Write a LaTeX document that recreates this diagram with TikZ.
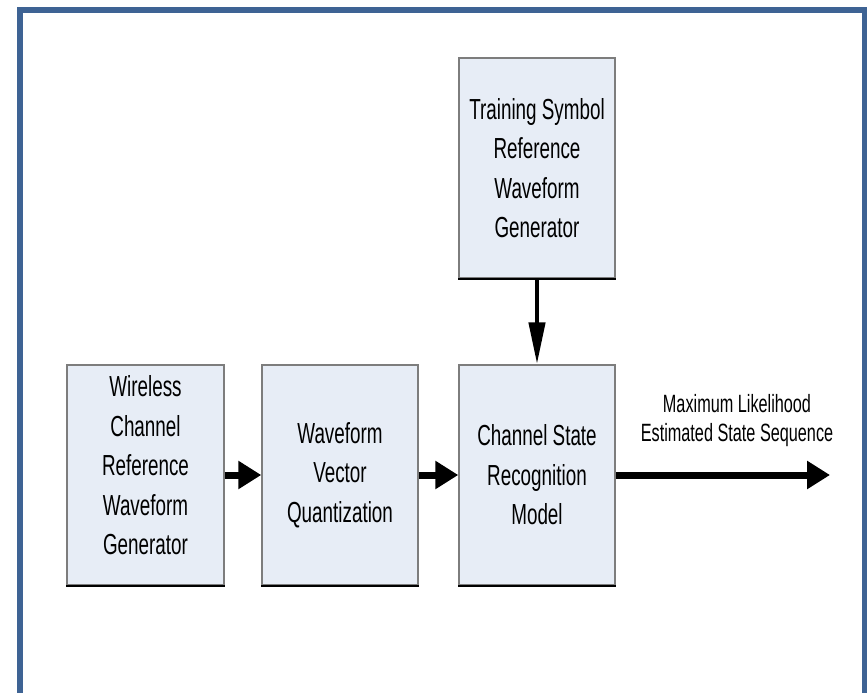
\documentclass[tikz,border=0pt]{standalone}
\usepackage{fontspec}
\setmainfont{Liberation Sans}[FakeStretch=0.65]
\usetikzlibrary{arrows.meta}
\definecolor{frameblue}{RGB}{62,99,148}
\definecolor{boxfill}{RGB}{231,237,246}
\definecolor{boxedge}{RGB}{125,125,125}

\begin{document}
\begin{tikzpicture}[x=1pt,y=-1pt,
  blockbox/.style={draw=boxedge, line width=1.5pt, fill=boxfill,
    minimum width=156pt, minimum height=220pt, inner sep=0pt,
    align=center, font=\fontsize{29}{39.5}\selectfont},
  flow/.style={line width=7pt, -{Triangle[length=23pt,width=27pt]}},
  feed/.style={line width=4.5pt, -{Triangle[length=42pt,width=16pt]}},
  lbl/.style={align=center, font=\fontsize{25}{29}\selectfont}]
\useasboundingbox (0,0) rectangle (867,693);
\clip (0,0) rectangle (867,693);

% outer frame
\draw[frameblue, line width=5.5pt] (20,10) rectangle (864.5,760);

% processing blocks
\node[blockbox, minimum width=157pt, text depth=20pt] (wcr) at (145.5,475)
  {Wireless\\Channel\\Reference\\Waveform\\Generator};
\node[blockbox] (wvq) at (340,475) {Waveform\\Vector\\Quantization};
\node[blockbox] (csr) at (537,475) {Channel State\\Recognition\\Model};
\node[blockbox] (tsr) at (537,168) {Training Symbol\\Reference\\Waveform\\Generator};

% darker lower edges
\foreach \b in {wcr,wvq,csr,tsr}
  \draw[black, line width=2pt] (\b.south west) -- (\b.south east);

% connectors
\draw[flow] (wcr.east) -- (wvq.west);
\draw[flow] (wvq.east) -- (csr.west);
\draw[feed] (tsr.south) -- (csr.north);
\coordinate (mlout) at (830,475);
\draw[flow] (csr.east) -- (mlout);

\node[lbl] (mllabel) at (737,421) {Maximum Likelihood\\Estimated State Sequence};
\end{tikzpicture}
\end{document}
